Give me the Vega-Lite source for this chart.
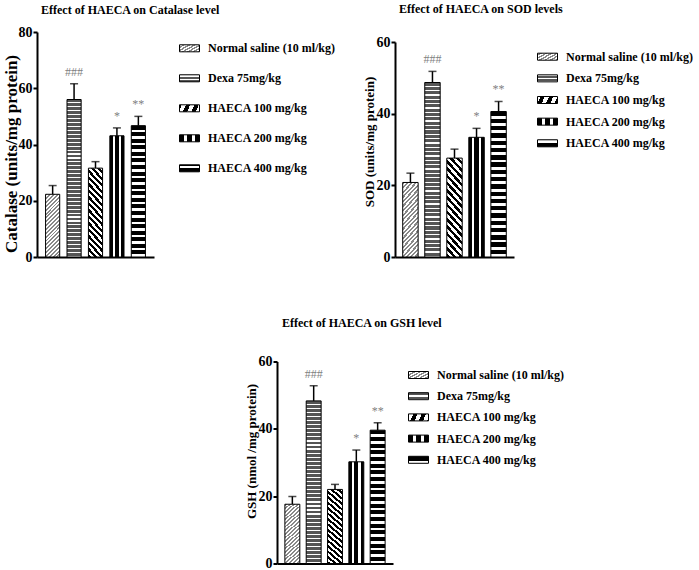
{
  "$schema": "https://vega.github.io/schema/vega-lite/v6.json",
  "padding": {"left": 1, "top": 2, "right": 0, "bottom": 0},
  "params": [
    {"name": "gNS", "value": {"gradient": "linear", "x1": 0, "y1": 0, "x2": 0.265, "y2": 1.168, "stops": [
      {"offset":0,"color":"#888"},{"offset":0.025,"color":"#888"},{"offset":0.025,"color":"#fff"},{"offset":0.05,"color":"#fff"},
      {"offset":0.05,"color":"#888"},{"offset":0.075,"color":"#888"},{"offset":0.075,"color":"#fff"},{"offset":0.1,"color":"#fff"},
      {"offset":0.1,"color":"#888"},{"offset":0.125,"color":"#888"},{"offset":0.125,"color":"#fff"},{"offset":0.15,"color":"#fff"},
      {"offset":0.15,"color":"#888"},{"offset":0.175,"color":"#888"},{"offset":0.175,"color":"#fff"},{"offset":0.2,"color":"#fff"},
      {"offset":0.2,"color":"#888"},{"offset":0.225,"color":"#888"},{"offset":0.225,"color":"#fff"},{"offset":0.25,"color":"#fff"},
      {"offset":0.25,"color":"#888"},{"offset":0.275,"color":"#888"},{"offset":0.275,"color":"#fff"},{"offset":0.3,"color":"#fff"},
      {"offset":0.3,"color":"#888"},{"offset":0.325,"color":"#888"},{"offset":0.325,"color":"#fff"},{"offset":0.35,"color":"#fff"},
      {"offset":0.35,"color":"#888"},{"offset":0.375,"color":"#888"},{"offset":0.375,"color":"#fff"},{"offset":0.4,"color":"#fff"},
      {"offset":0.4,"color":"#888"},{"offset":0.425,"color":"#888"},{"offset":0.425,"color":"#fff"},{"offset":0.45,"color":"#fff"},
      {"offset":0.45,"color":"#888"},{"offset":0.475,"color":"#888"},{"offset":0.475,"color":"#fff"},{"offset":0.5,"color":"#fff"},
      {"offset":0.5,"color":"#888"},{"offset":0.525,"color":"#888"},{"offset":0.525,"color":"#fff"},{"offset":0.55,"color":"#fff"},
      {"offset":0.55,"color":"#888"},{"offset":0.575,"color":"#888"},{"offset":0.575,"color":"#fff"},{"offset":0.6,"color":"#fff"},
      {"offset":0.6,"color":"#888"},{"offset":0.625,"color":"#888"},{"offset":0.625,"color":"#fff"},{"offset":0.65,"color":"#fff"},
      {"offset":0.65,"color":"#888"},{"offset":0.675,"color":"#888"},{"offset":0.675,"color":"#fff"},{"offset":0.7,"color":"#fff"},
      {"offset":0.7,"color":"#888"},{"offset":0.725,"color":"#888"},{"offset":0.725,"color":"#fff"},{"offset":0.75,"color":"#fff"},
      {"offset":0.75,"color":"#888"},{"offset":0.775,"color":"#888"},{"offset":0.775,"color":"#fff"},{"offset":0.8,"color":"#fff"},
      {"offset":0.8,"color":"#888"},{"offset":0.825,"color":"#888"},{"offset":0.825,"color":"#fff"},{"offset":0.85,"color":"#fff"},
      {"offset":0.85,"color":"#888"},{"offset":0.875,"color":"#888"},{"offset":0.875,"color":"#fff"},{"offset":0.9,"color":"#fff"},
      {"offset":0.9,"color":"#888"},{"offset":0.925,"color":"#888"},{"offset":0.925,"color":"#fff"},{"offset":0.95,"color":"#fff"},
      {"offset":0.95,"color":"#888"},{"offset":0.975,"color":"#888"},{"offset":0.975,"color":"#fff"},{"offset":1,"color":"#fff"}
    ]}},
    {"name": "gDexa", "value": {"gradient": "linear", "x1": 0, "y1": 0, "x2": 0, "y2": 1, "stops": [
      {"offset":0,"color":"#555"},{"offset":0.0175,"color":"#555"},{"offset":0.0175,"color":"#fff"},{"offset":0.025,"color":"#fff"},
      {"offset":0.025,"color":"#555"},{"offset":0.0425,"color":"#555"},{"offset":0.0425,"color":"#fff"},{"offset":0.05,"color":"#fff"},
      {"offset":0.05,"color":"#555"},{"offset":0.0675,"color":"#555"},{"offset":0.0675,"color":"#fff"},{"offset":0.075,"color":"#fff"},
      {"offset":0.075,"color":"#555"},{"offset":0.0925,"color":"#555"},{"offset":0.0925,"color":"#fff"},{"offset":0.1,"color":"#fff"},
      {"offset":0.1,"color":"#555"},{"offset":0.1175,"color":"#555"},{"offset":0.1175,"color":"#fff"},{"offset":0.125,"color":"#fff"},
      {"offset":0.125,"color":"#555"},{"offset":0.1425,"color":"#555"},{"offset":0.1425,"color":"#fff"},{"offset":0.15,"color":"#fff"},
      {"offset":0.15,"color":"#555"},{"offset":0.1675,"color":"#555"},{"offset":0.1675,"color":"#fff"},{"offset":0.175,"color":"#fff"},
      {"offset":0.175,"color":"#555"},{"offset":0.1925,"color":"#555"},{"offset":0.1925,"color":"#fff"},{"offset":0.2,"color":"#fff"},
      {"offset":0.2,"color":"#555"},{"offset":0.2175,"color":"#555"},{"offset":0.2175,"color":"#fff"},{"offset":0.225,"color":"#fff"},
      {"offset":0.225,"color":"#555"},{"offset":0.2425,"color":"#555"},{"offset":0.2425,"color":"#fff"},{"offset":0.25,"color":"#fff"},
      {"offset":0.25,"color":"#555"},{"offset":0.2675,"color":"#555"},{"offset":0.2675,"color":"#fff"},{"offset":0.275,"color":"#fff"},
      {"offset":0.275,"color":"#555"},{"offset":0.2925,"color":"#555"},{"offset":0.2925,"color":"#fff"},{"offset":0.3,"color":"#fff"},
      {"offset":0.3,"color":"#555"},{"offset":0.3175,"color":"#555"},{"offset":0.3175,"color":"#fff"},{"offset":0.325,"color":"#fff"},
      {"offset":0.325,"color":"#555"},{"offset":0.3425,"color":"#555"},{"offset":0.3425,"color":"#fff"},{"offset":0.35,"color":"#fff"},
      {"offset":0.35,"color":"#555"},{"offset":0.3675,"color":"#555"},{"offset":0.3675,"color":"#fff"},{"offset":0.375,"color":"#fff"},
      {"offset":0.375,"color":"#555"},{"offset":0.3925,"color":"#555"},{"offset":0.3925,"color":"#fff"},{"offset":0.4,"color":"#fff"},
      {"offset":0.4,"color":"#555"},{"offset":0.4175,"color":"#555"},{"offset":0.4175,"color":"#fff"},{"offset":0.425,"color":"#fff"},
      {"offset":0.425,"color":"#555"},{"offset":0.4425,"color":"#555"},{"offset":0.4425,"color":"#fff"},{"offset":0.45,"color":"#fff"},
      {"offset":0.45,"color":"#555"},{"offset":0.4675,"color":"#555"},{"offset":0.4675,"color":"#fff"},{"offset":0.475,"color":"#fff"},
      {"offset":0.475,"color":"#555"},{"offset":0.4925,"color":"#555"},{"offset":0.4925,"color":"#fff"},{"offset":0.5,"color":"#fff"},
      {"offset":0.5,"color":"#555"},{"offset":0.5175,"color":"#555"},{"offset":0.5175,"color":"#fff"},{"offset":0.525,"color":"#fff"},
      {"offset":0.525,"color":"#555"},{"offset":0.5425,"color":"#555"},{"offset":0.5425,"color":"#fff"},{"offset":0.55,"color":"#fff"},
      {"offset":0.55,"color":"#555"},{"offset":0.5675,"color":"#555"},{"offset":0.5675,"color":"#fff"},{"offset":0.575,"color":"#fff"},
      {"offset":0.575,"color":"#555"},{"offset":0.5925,"color":"#555"},{"offset":0.5925,"color":"#fff"},{"offset":0.6,"color":"#fff"},
      {"offset":0.6,"color":"#555"},{"offset":0.6175,"color":"#555"},{"offset":0.6175,"color":"#fff"},{"offset":0.625,"color":"#fff"},
      {"offset":0.625,"color":"#555"},{"offset":0.6425,"color":"#555"},{"offset":0.6425,"color":"#fff"},{"offset":0.65,"color":"#fff"},
      {"offset":0.65,"color":"#555"},{"offset":0.6675,"color":"#555"},{"offset":0.6675,"color":"#fff"},{"offset":0.675,"color":"#fff"},
      {"offset":0.675,"color":"#555"},{"offset":0.6925,"color":"#555"},{"offset":0.6925,"color":"#fff"},{"offset":0.7,"color":"#fff"},
      {"offset":0.7,"color":"#555"},{"offset":0.7175,"color":"#555"},{"offset":0.7175,"color":"#fff"},{"offset":0.725,"color":"#fff"},
      {"offset":0.725,"color":"#555"},{"offset":0.7425,"color":"#555"},{"offset":0.7425,"color":"#fff"},{"offset":0.75,"color":"#fff"},
      {"offset":0.75,"color":"#555"},{"offset":0.7675,"color":"#555"},{"offset":0.7675,"color":"#fff"},{"offset":0.775,"color":"#fff"},
      {"offset":0.775,"color":"#555"},{"offset":0.7925,"color":"#555"},{"offset":0.7925,"color":"#fff"},{"offset":0.8,"color":"#fff"},
      {"offset":0.8,"color":"#555"},{"offset":0.8175,"color":"#555"},{"offset":0.8175,"color":"#fff"},{"offset":0.825,"color":"#fff"},
      {"offset":0.825,"color":"#555"},{"offset":0.8425,"color":"#555"},{"offset":0.8425,"color":"#fff"},{"offset":0.85,"color":"#fff"},
      {"offset":0.85,"color":"#555"},{"offset":0.8675,"color":"#555"},{"offset":0.8675,"color":"#fff"},{"offset":0.875,"color":"#fff"},
      {"offset":0.875,"color":"#555"},{"offset":0.8925,"color":"#555"},{"offset":0.8925,"color":"#fff"},{"offset":0.9,"color":"#fff"},
      {"offset":0.9,"color":"#555"},{"offset":0.9175,"color":"#555"},{"offset":0.9175,"color":"#fff"},{"offset":0.925,"color":"#fff"},
      {"offset":0.925,"color":"#555"},{"offset":0.9425,"color":"#555"},{"offset":0.9425,"color":"#fff"},{"offset":0.95,"color":"#fff"},
      {"offset":0.95,"color":"#555"},{"offset":0.9675,"color":"#555"},{"offset":0.9675,"color":"#fff"},{"offset":0.975,"color":"#fff"},
      {"offset":0.975,"color":"#555"},{"offset":0.9925,"color":"#555"},{"offset":0.9925,"color":"#fff"},{"offset":1,"color":"#fff"}
    ]}},
    {"name": "gH100", "value": {"gradient": "linear", "x1": 0, "y1": 1, "x2": 0.196, "y2": -0.139, "stops": [
      {"offset":0,"color":"#000"},{"offset":0.03125,"color":"#000"},{"offset":0.03125,"color":"#fff"},{"offset":0.0625,"color":"#fff"},
      {"offset":0.0625,"color":"#000"},{"offset":0.09375,"color":"#000"},{"offset":0.09375,"color":"#fff"},{"offset":0.125,"color":"#fff"},
      {"offset":0.125,"color":"#000"},{"offset":0.15625,"color":"#000"},{"offset":0.15625,"color":"#fff"},{"offset":0.1875,"color":"#fff"},
      {"offset":0.1875,"color":"#000"},{"offset":0.21875,"color":"#000"},{"offset":0.21875,"color":"#fff"},{"offset":0.25,"color":"#fff"},
      {"offset":0.25,"color":"#000"},{"offset":0.28125,"color":"#000"},{"offset":0.28125,"color":"#fff"},{"offset":0.3125,"color":"#fff"},
      {"offset":0.3125,"color":"#000"},{"offset":0.34375,"color":"#000"},{"offset":0.34375,"color":"#fff"},{"offset":0.375,"color":"#fff"},
      {"offset":0.375,"color":"#000"},{"offset":0.40625,"color":"#000"},{"offset":0.40625,"color":"#fff"},{"offset":0.4375,"color":"#fff"},
      {"offset":0.4375,"color":"#000"},{"offset":0.46875,"color":"#000"},{"offset":0.46875,"color":"#fff"},{"offset":0.5,"color":"#fff"},
      {"offset":0.5,"color":"#000"},{"offset":0.53125,"color":"#000"},{"offset":0.53125,"color":"#fff"},{"offset":0.5625,"color":"#fff"},
      {"offset":0.5625,"color":"#000"},{"offset":0.59375,"color":"#000"},{"offset":0.59375,"color":"#fff"},{"offset":0.625,"color":"#fff"},
      {"offset":0.625,"color":"#000"},{"offset":0.65625,"color":"#000"},{"offset":0.65625,"color":"#fff"},{"offset":0.6875,"color":"#fff"},
      {"offset":0.6875,"color":"#000"},{"offset":0.71875,"color":"#000"},{"offset":0.71875,"color":"#fff"},{"offset":0.75,"color":"#fff"},
      {"offset":0.75,"color":"#000"},{"offset":0.78125,"color":"#000"},{"offset":0.78125,"color":"#fff"},{"offset":0.8125,"color":"#fff"},
      {"offset":0.8125,"color":"#000"},{"offset":0.84375,"color":"#000"},{"offset":0.84375,"color":"#fff"},{"offset":0.875,"color":"#fff"},
      {"offset":0.875,"color":"#000"},{"offset":0.90625,"color":"#000"},{"offset":0.90625,"color":"#fff"},{"offset":0.9375,"color":"#fff"},
      {"offset":0.9375,"color":"#000"},{"offset":0.96875,"color":"#000"},{"offset":0.96875,"color":"#fff"},{"offset":1,"color":"#fff"}
    ]}},
    {"name": "gH200", "value": {"gradient": "linear", "x1": 0, "y1": 0, "x2": 1, "y2": 0, "stops": [
      {"offset":0,"color":"#000"},{"offset":0.22,"color":"#000"},{"offset":0.22,"color":"#fff"},{"offset":0.36,"color":"#fff"},
      {"offset":0.36,"color":"#000"},{"offset":0.64,"color":"#000"},{"offset":0.64,"color":"#fff"},{"offset":0.78,"color":"#fff"},
      {"offset":0.78,"color":"#000"},{"offset":1,"color":"#000"}
    ]}},
    {"name": "gH400", "value": {"gradient": "linear", "x1": 0, "y1": 0, "x2": 0, "y2": 1, "stops": [
      {"offset":0,"color":"#000"},{"offset":0.03,"color":"#000"},{"offset":0.03,"color":"#fff"},{"offset":0.05,"color":"#fff"},
      {"offset":0.05,"color":"#000"},{"offset":0.08,"color":"#000"},{"offset":0.08,"color":"#fff"},{"offset":0.1,"color":"#fff"},
      {"offset":0.1,"color":"#000"},{"offset":0.13,"color":"#000"},{"offset":0.13,"color":"#fff"},{"offset":0.15,"color":"#fff"},
      {"offset":0.15,"color":"#000"},{"offset":0.18,"color":"#000"},{"offset":0.18,"color":"#fff"},{"offset":0.2,"color":"#fff"},
      {"offset":0.2,"color":"#000"},{"offset":0.23,"color":"#000"},{"offset":0.23,"color":"#fff"},{"offset":0.25,"color":"#fff"},
      {"offset":0.25,"color":"#000"},{"offset":0.28,"color":"#000"},{"offset":0.28,"color":"#fff"},{"offset":0.3,"color":"#fff"},
      {"offset":0.3,"color":"#000"},{"offset":0.33,"color":"#000"},{"offset":0.33,"color":"#fff"},{"offset":0.35,"color":"#fff"},
      {"offset":0.35,"color":"#000"},{"offset":0.38,"color":"#000"},{"offset":0.38,"color":"#fff"},{"offset":0.4,"color":"#fff"},
      {"offset":0.4,"color":"#000"},{"offset":0.43,"color":"#000"},{"offset":0.43,"color":"#fff"},{"offset":0.45,"color":"#fff"},
      {"offset":0.45,"color":"#000"},{"offset":0.48,"color":"#000"},{"offset":0.48,"color":"#fff"},{"offset":0.5,"color":"#fff"},
      {"offset":0.5,"color":"#000"},{"offset":0.53,"color":"#000"},{"offset":0.53,"color":"#fff"},{"offset":0.55,"color":"#fff"},
      {"offset":0.55,"color":"#000"},{"offset":0.58,"color":"#000"},{"offset":0.58,"color":"#fff"},{"offset":0.6,"color":"#fff"},
      {"offset":0.6,"color":"#000"},{"offset":0.63,"color":"#000"},{"offset":0.63,"color":"#fff"},{"offset":0.65,"color":"#fff"},
      {"offset":0.65,"color":"#000"},{"offset":0.68,"color":"#000"},{"offset":0.68,"color":"#fff"},{"offset":0.7,"color":"#fff"},
      {"offset":0.7,"color":"#000"},{"offset":0.73,"color":"#000"},{"offset":0.73,"color":"#fff"},{"offset":0.75,"color":"#fff"},
      {"offset":0.75,"color":"#000"},{"offset":0.78,"color":"#000"},{"offset":0.78,"color":"#fff"},{"offset":0.8,"color":"#fff"},
      {"offset":0.8,"color":"#000"},{"offset":0.83,"color":"#000"},{"offset":0.83,"color":"#fff"},{"offset":0.85,"color":"#fff"},
      {"offset":0.85,"color":"#000"},{"offset":0.88,"color":"#000"},{"offset":0.88,"color":"#fff"},{"offset":0.9,"color":"#fff"},
      {"offset":0.9,"color":"#000"},{"offset":0.93,"color":"#000"},{"offset":0.93,"color":"#fff"},{"offset":0.95,"color":"#fff"},
      {"offset":0.95,"color":"#000"},{"offset":0.98,"color":"#000"},{"offset":0.98,"color":"#fff"},{"offset":1,"color":"#fff"}
    ]}}
  ],
  "datasets": {
    "vals": [
      {"panel": "cat", "group": "Normal saline (10 ml/kg)", "mean": 22.3, "upper": 25.4, "sig": ""},
      {"panel": "cat", "group": "Dexa 75mg/kg", "mean": 56.0, "upper": 61.6, "sig": "###"},
      {"panel": "cat", "group": "HAECA 100 mg/kg", "mean": 31.6, "upper": 33.9, "sig": ""},
      {"panel": "cat", "group": "HAECA 200 mg/kg", "mean": 43.1, "upper": 45.9, "sig": "*"},
      {"panel": "cat", "group": "HAECA 400 mg/kg", "mean": 46.7, "upper": 50.0, "sig": "**"},
      {"panel": "sod", "group": "Normal saline (10 ml/kg)", "mean": 20.8, "upper": 23.4, "sig": ""},
      {"panel": "sod", "group": "Dexa 75mg/kg", "mean": 48.7, "upper": 51.8, "sig": "###"},
      {"panel": "sod", "group": "HAECA 100 mg/kg", "mean": 27.6, "upper": 30.1, "sig": ""},
      {"panel": "sod", "group": "HAECA 200 mg/kg", "mean": 33.4, "upper": 35.9, "sig": "*"},
      {"panel": "sod", "group": "HAECA 400 mg/kg", "mean": 40.6, "upper": 43.4, "sig": "**"},
      {"panel": "gsh", "group": "Normal saline (10 ml/kg)", "mean": 17.6, "upper": 19.9, "sig": ""},
      {"panel": "gsh", "group": "Dexa 75mg/kg", "mean": 48.3, "upper": 52.8, "sig": "###"},
      {"panel": "gsh", "group": "HAECA 100 mg/kg", "mean": 22.0, "upper": 23.5, "sig": ""},
      {"panel": "gsh", "group": "HAECA 200 mg/kg", "mean": 30.2, "upper": 33.7, "sig": "*"},
      {"panel": "gsh", "group": "HAECA 400 mg/kg", "mean": 39.6, "upper": 41.8, "sig": "**"}
    ]
  },
  "columns": 3,
  "bounds": "flush",
  "align": "each",
  "spacing": {"row": 104.5, "column": 0},
  "resolve": {
    "scale": {"x": "independent", "y": "independent", "fill": "independent"},
    "legend": {"fill": "independent"}
  },
  "concat": [
    {
      "width": 117,
      "height": 225,
      "title": {"text": "Effect of HAECA on Catalase level", "offset": 8.5, "dx": 4},
      "data": {"name": "vals"},
      "transform": [{"filter": "datum.panel === 'cat'"}],
      "encoding": {
        "x": {"field": "group", "type": "nominal", "sort": null,
          "scale": {"paddingInner": 0.34, "paddingOuter": 0.4},
          "axis": {"labels": false, "ticks": false, "title": null}}
      },
      "layer": [
        {
          "mark": {"type": "bar", "stroke": "black", "strokeWidth": 1},
          "encoding": {
            "y": {"field": "mean", "type": "quantitative",
              "scale": {"domain": [0, 80], "nice": false},
              "axis": {"values": [0, 20, 40, 60, 80], "labelFontWeight": "bold", "title": "Catalase (units/mg protein)", "titleFontSize": 17, "titleX": -26, "titleY": 121.5}},
            "fill": {"field": "group", "type": "nominal",
              "scale": {"domain": ["Normal saline (10 ml/kg)", "Dexa 75mg/kg", "HAECA 100 mg/kg", "HAECA 200 mg/kg", "HAECA 400 mg/kg"],
                "range": [{"expr": "gNS"}, {"expr": "gDexa"}, {"expr": "gH100"}, {"expr": "gH200"}, {"expr": "gH400"}]},
              "legend": {"title": null, "orient": "none", "legendX": 142, "legendY": 5.8, "rowPadding": 13}}
          }
        },
        {
          "mark": {"type": "rule", "strokeWidth": 1.5, "color": "black"},
          "encoding": {"y": {"field": "mean", "type": "quantitative"}, "y2": {"field": "upper"}}
        },
        {
          "mark": {"type": "tick", "size": 8, "thickness": 1.5, "color": "black"},
          "encoding": {"y": {"field": "upper", "type": "quantitative"}}
        },
        {
          "mark": {"type": "text", "dy": -8, "baseline": "alphabetic", "fontSize": 12, "color": "#7f7f7f"},
          "encoding": {"y": {"field": "upper", "type": "quantitative"}, "text": {"field": "sig"}}
        }
      ]
    },
    {"width": 118, "height": 1, "data": {"values": []}, "mark": "point"},
    {
      "width": 119,
      "height": 225,
      "title": {"text": "Effect of HAECA on SOD levels", "offset": 16.5, "dx": 4},
      "data": {"name": "vals"},
      "transform": [{"filter": "datum.panel === 'sod'"}],
      "encoding": {
        "x": {"field": "group", "type": "nominal", "sort": null,
          "scale": {"paddingInner": 0.3, "paddingOuter": 0.35},
          "axis": {"labels": false, "ticks": false, "title": null}}
      },
      "layer": [
        {
          "mark": {"type": "bar", "stroke": "black", "strokeWidth": 1},
          "encoding": {
            "y": {"field": "mean", "type": "quantitative",
              "scale": {"domain": [0, 60], "nice": false, "range": [225, 10]},
              "axis": {"values": [0, 20, 40, 60], "labelFontWeight": "bold", "title": "SOD (units/mg protein)", "titleFontSize": 13, "titleX": -26, "titleY": 109.5}},
            "fill": {"field": "group", "type": "nominal",
              "scale": {"domain": ["Normal saline (10 ml/kg)", "Dexa 75mg/kg", "HAECA 100 mg/kg", "HAECA 200 mg/kg", "HAECA 400 mg/kg"],
                "range": [{"expr": "gNS"}, {"expr": "gDexa"}, {"expr": "gH100"}, {"expr": "gH200"}, {"expr": "gH400"}]},
              "legend": {"title": null, "orient": "none", "legendX": 142, "legendY": 14.2, "rowPadding": 4.65}}
          }
        },
        {
          "mark": {"type": "rule", "strokeWidth": 1.5, "color": "black"},
          "encoding": {"y": {"field": "mean", "type": "quantitative"}, "y2": {"field": "upper"}}
        },
        {
          "mark": {"type": "tick", "size": 8, "thickness": 1.5, "color": "black"},
          "encoding": {"y": {"field": "upper", "type": "quantitative"}}
        },
        {
          "mark": {"type": "text", "dy": -8, "baseline": "alphabetic", "fontSize": 12, "color": "#7f7f7f"},
          "encoding": {"y": {"field": "upper", "type": "quantitative"}, "text": {"field": "sig"}}
        }
      ]
    },
    {"width": 240, "height": 1, "data": {"values": []}, "mark": "point"},
    {
      "width": 116,
      "height": 202,
      "title": {"text": "Effect of HAECA on GSH level", "offset": 25, "dx": 5},
      "data": {"name": "vals"},
      "transform": [{"filter": "datum.panel === 'gsh'"}],
      "encoding": {
        "x": {"field": "group", "type": "nominal", "sort": null,
          "scale": {"paddingInner": 0.3, "paddingOuter": 0.37},
          "axis": {"labels": false, "ticks": false, "title": null}}
      },
      "layer": [
        {
          "mark": {"type": "bar", "stroke": "black", "strokeWidth": 1},
          "encoding": {
            "y": {"field": "mean", "type": "quantitative",
              "scale": {"domain": [0, 60], "nice": false},
              "axis": {"values": [0, 20, 40, 60], "labelFontWeight": "bold", "title": "GSH (nmol /mg protein)", "titleFontSize": 13, "titleX": -26, "titleY": 89.5}},
            "fill": {"field": "group", "type": "nominal",
              "scale": {"domain": ["Normal saline (10 ml/kg)", "Dexa 75mg/kg", "HAECA 100 mg/kg", "HAECA 200 mg/kg", "HAECA 400 mg/kg"],
                "range": [{"expr": "gNS"}, {"expr": "gDexa"}, {"expr": "gH100"}, {"expr": "gH200"}, {"expr": "gH400"}]},
              "legend": {"title": null, "orient": "none", "legendX": 131, "legendY": 3, "rowPadding": 4.2}}
          }
        },
        {
          "mark": {"type": "rule", "strokeWidth": 1.5, "color": "black"},
          "encoding": {"y": {"field": "mean", "type": "quantitative"}, "y2": {"field": "upper"}}
        },
        {
          "mark": {"type": "tick", "size": 8, "thickness": 1.5, "color": "black"},
          "encoding": {"y": {"field": "upper", "type": "quantitative"}}
        },
        {
          "mark": {"type": "text", "dy": -8, "baseline": "alphabetic", "fontSize": 12, "color": "#7f7f7f"},
          "encoding": {"y": {"field": "upper", "type": "quantitative"}, "text": {"field": "sig"}}
        }
      ]
    }
  ],
  "config": {
    "font": "Liberation Serif",
    "view": {"stroke": null},
    "title": {"font": "Liberation Serif", "fontSize": 12, "fontWeight": "bold", "color": "black", "anchor": "start", "frame": "group"},
    "axis": {"domainColor": "black", "domainWidth": 2, "tickColor": "black", "tickWidth": 2, "tickSize": 4,
      "labelFont": "Liberation Serif", "labelFontSize": 14, "labelFontWeight": "bold", "labelColor": "black", "labelPadding": 1,
      "titleFont": "Liberation Serif", "titleFontWeight": "bold", "titleColor": "black", "titleBaseline": "middle", "titleAlign": "center", "grid": false},
    "legend": {"symbolType": "M-1,-0.35H1V0.35H-1Z", "symbolSize": 400, "symbolStrokeColor": "black", "symbolStrokeWidth": 1,
      "labelFont": "Liberation Serif", "labelFontSize": 12, "labelFontWeight": "bold", "labelColor": "black", "labelOffset": 8, "labelLimit": 300, "padding": 0}
  }
}
